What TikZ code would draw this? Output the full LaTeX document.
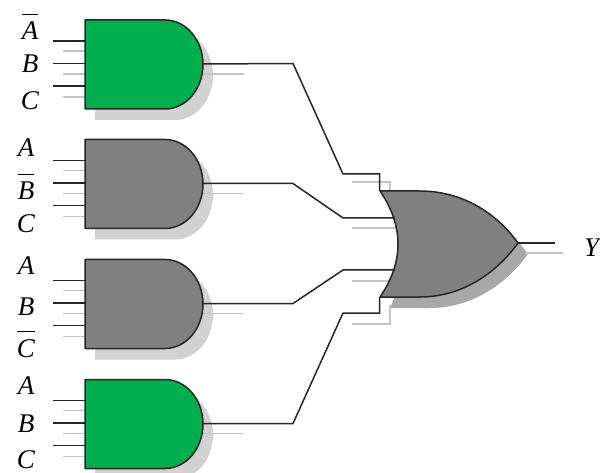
\documentclass[tikz,border=0pt]{standalone}
\usepackage{fontspec}
\setmainfont{Liberation Serif}
\definecolor{gatgreen}{HTML}{00AE4E}
\definecolor{gatgrey}{HTML}{808080}
\definecolor{andshadow}{HTML}{D2D2D2}
\definecolor{orshadow}{HTML}{A8A8A8}
\definecolor{ghost}{HTML}{C4C4C4}
\newcommand{\barred}[1]{\vbox{\hrule height 1.4pt \vskip 7pt \hbox{#1}}}
\tikzset{
  wire/.style={black!85,line width=1.5pt},
  ghostwire/.style={ghost,line width=1.3pt},
  lab/.style={anchor=base,inner sep=0pt,font=\fontsize{27}{27}\selectfont\itshape},
  pics/andgate/.style={code={
    \fill[andshadow] (10,11) -- (90,11) .. controls (111,11) and (128,31) .. (128,55.5)
       .. controls (128,80) and (111,100) .. (90,100) -- (10,100) -- cycle;
    \foreach \yy in {31,54,77} {\draw[ghostwire] (-22,\yy) -- (0,\yy);}
    \draw[ghostwire] (118,54) -- (159,54);
    \coordinate (in1) at (-32,21);
    \coordinate (in2) at (-32,43.5);
    \coordinate (in3) at (-32,66);
    \coordinate (pin1) at (0,21);
    \coordinate (pin2) at (0,43.5);
    \coordinate (pin3) at (0,66);
    \coordinate (out) at (118,44);
    \draw[wire] (in1) -- (pin1);
    \draw[wire] (in2) -- (pin2);
    \draw[wire] (in3) -- (pin3);
    \draw[wire,fill=#1,line join=round] (0,0) -- (80,0) .. controls (101,0) and (118,20) .. (118,44.5)
       .. controls (118,69) and (101,89) .. (80,89) -- (0,89) -- cycle;
  }}
}
\begin{document}
\begin{tikzpicture}[x=1pt,y=-1pt]
\useasboundingbox (0,0) rectangle (600,473);
% OR gate shadow and ghost wires
\fill[orshadow] (390,202) -- (430,202) .. controls (470,202) and (505,222) .. (528,254)
   .. controls (505,286) and (470,308) .. (430,308) -- (390,308) .. controls (404,280) and (404,230) .. (390,202) -- cycle;
\draw[ghostwire] (352,182) -- (390,182) -- (390,192);
\draw[ghostwire] (352,228) -- (397,228);
\draw[ghostwire] (352,281) -- (397,281);
\draw[ghostwire] (352,324) -- (390,324) -- (390,305);
\draw[ghostwire] (525,253) -- (563,253);
% AND gates
\pic (g1) at (85,20) {andgate=gatgreen};
\pic (g2) at (85,139.5) {andgate=gatgrey};
\pic (g3) at (85,259.5) {andgate=gatgrey};
\pic (g4) at (85,379.5) {andgate=gatgreen};
% OR gate
\draw[wire,fill=gatgrey,line join=round] (380,191) -- (420,191) .. controls (460,191) and (495,211) .. (518,243)
   .. controls (495,275) and (460,297) .. (420,297) -- (380,297) .. controls (404,262) and (404,226) .. (380,191) -- cycle;
\coordinate (or1) at (379.5,191);
\coordinate (or2) at (395,218);
\coordinate (or3) at (395,270);
\coordinate (or4) at (379.5,297);
\coordinate (orout) at (518,243);
\coordinate (yend) at (555,243);
% connectors
\draw[wire] (g1out) -- (293,63.5) -- (343,174) -- (379.5,174) -- (or1);
\draw[wire] (g2out) -- (293,183.5) -- (343,218) -- (or2);
\draw[wire] (g3out) -- (293,303.5) -- (343,270) -- (or3);
\draw[wire] (g4out) -- (293,423.5) -- (343,313) -- (379.5,313) -- (or4);
\draw[wire] (orout) -- (yend);
% labels
\node[lab] (a1) at (30,40) {\barred{A}};
\node[lab] (b1) at (30,73) {B};
\node[lab] (c1) at (30,110) {C};
\node[lab] (a2) at (26,157) {A};
\node[lab] (b2) at (26,200) {\barred{B}};
\node[lab] (c2) at (26,233) {C};
\node[lab] (a3) at (26,275) {A};
\node[lab] (b3) at (26,315) {B};
\node[lab] (c3) at (26,357) {\barred{C}};
\node[lab] (a4) at (26,394) {A};
\node[lab] (b4) at (26,432) {B};
\node[lab] (c4) at (26,468) {C};
\node[lab,anchor=base west] (y) at (584,257) {Y};
\end{tikzpicture}
\end{document}
